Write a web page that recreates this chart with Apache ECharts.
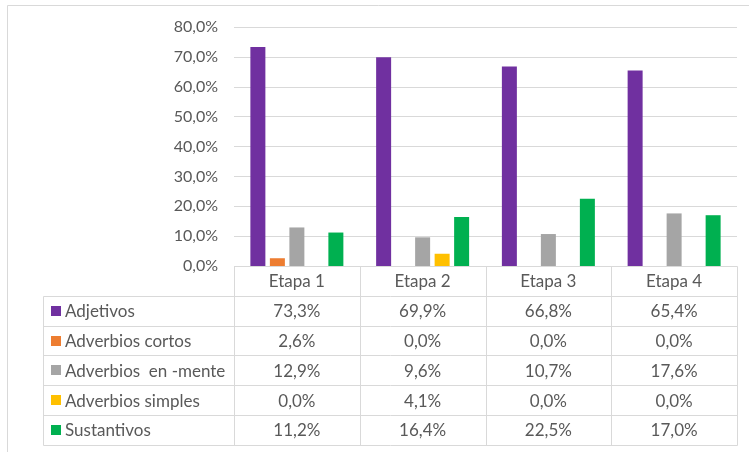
<!DOCTYPE html>
<html>
<head>
<meta charset="utf-8">
<script src="https://cdn.jsdelivr.net/npm/echarts@6/dist/echarts.min.js"></script>
<style>
  html, body { margin: 0; padding: 0; background: #ffffff; }
  #chart { width: 749px; height: 452px; }
</style>
</head>
<body>
<div id="chart"></div>
<script>
// Stages on the category axis
const categories = ['Etapa 1', 'Etapa 2', 'Etapa 3', 'Etapa 4'];

// Share (%) of each word class per stage
const adjetivos        = [73.3, 69.9, 66.8, 65.4];
const adverbiosCortos  = [2.6, 0.0, 0.0, 0.0];
const adverbiosMente   = [12.9, 9.6, 10.7, 17.6];
const adverbiosSimples = [0.0, 4.1, 0.0, 0.0];
const sustantivos      = [11.2, 16.4, 22.5, 17.0];

const seriesNames = ['Adjetivos', 'Adverbios cortos', 'Adverbios  en -mente', 'Adverbios simples', 'Sustantivos'];
const seriesData  = [adjetivos, adverbiosCortos, adverbiosMente, adverbiosSimples, sustantivos];
const seriesColors = ['#7030A0', '#ED7D31', '#A5A5A5', '#FFC000', '#00B050'];

// Value axis range
const yMin = 0, yMax = 80, yStep = 10;

const FONT = 'Lato';
const TEXT_COLOR = '#595959';
const LINE_COLOR = '#D9D9D9';

const fmt = v => v.toFixed(1).replace('.', ',') + '%';

const chart = echarts.init(document.getElementById('chart'), null, { renderer: 'canvas' });

chart.setOption({
  animation: false,
  backgroundColor: '#ffffff',
  textStyle: { fontFamily: FONT },
  grid: { left: 234, right: 12, top: 27, bottom: 186, containLabel: false },
  xAxis: {
    type: 'category',
    data: categories,
    axisLine: { show: false },
    axisTick: { show: false },
    axisLabel: { show: false },
    splitLine: { show: false }
  },
  yAxis: {
    type: 'value',
    min: yMin, max: yMax, interval: yStep,
    axisLine: { show: false },
    axisTick: { show: false },
    splitLine: { lineStyle: { color: LINE_COLOR, width: 1 } },
    axisLabel: {
      margin: 16,
      color: TEXT_COLOR,
      fontFamily: FONT,
      fontSize: 16,
      formatter: v => fmt(v)
    }
  },
  series: seriesData.map((d, i) => ({
    name: seriesNames[i],
    type: 'bar',
    data: d,
    barWidth: 15,
    barGap: '30%',
    itemStyle: { color: seriesColors[i] }
  }))
});

// Data table underneath the plot, aligned to the category axis
function buildTable() {
  const g = [];
  const x0 = chart.convertToPixel({ xAxisIndex: 0 }, 0);
  const x1 = chart.convertToPixel({ xAxisIndex: 0 }, 1);
  const colW = x1 - x0;
  const plotLeft = x0 - colW / 2;
  const plotRight = plotLeft + colW * categories.length;
  const top = chart.convertToPixel({ yAxisIndex: 0 }, 0);
  const rowH = 29.8;
  const tableLeft = 43;
  const bottom = top + rowH * (seriesNames.length + 1);

  const line = (xa, ya, xb, yb) => g.push({
    type: 'line', silent: true,
    shape: { x1: Math.round(xa) + 0.5, y1: Math.round(ya) + 0.5, x2: Math.round(xb) + 0.5, y2: Math.round(yb) + 0.5 },
    style: { stroke: LINE_COLOR, lineWidth: 1 }
  });
  const text = (str, x, y, align) => g.push({
    type: 'text', silent: true,
    style: { text: str, x: x, y: y, align: align, verticalAlign: 'middle', fill: TEXT_COLOR, font: '17px ' + FONT }
  });

  // header row lines
  line(plotLeft, top, plotRight, top);
  // body horizontal lines
  for (let r = 1; r <= seriesNames.length + 1; r++) {
    line(tableLeft, top + r * rowH, plotRight, top + r * rowH);
  }
  // vertical lines
  line(tableLeft, top + rowH, tableLeft, bottom);
  for (let c = 0; c <= categories.length; c++) {
    line(plotLeft + c * colW, top, plotLeft + c * colW, bottom);
  }
  // header labels
  categories.forEach((c, i) => {
    text(c, chart.convertToPixel({ xAxisIndex: 0 }, i), top + rowH / 2 + 1, 'center');
  });
  // rows
  seriesNames.forEach((name, r) => {
    const cy = top + (r + 1.5) * rowH;
    g.push({
      type: 'rect', silent: true,
      shape: { x: 51, y: Math.round(cy) - 5, width: 10, height: 10 },
      style: { fill: seriesColors[r] }
    });
    text(name, 65, cy + 1, 'left');
    seriesData[r].forEach((v, i) => {
      text(fmt(v), chart.convertToPixel({ xAxisIndex: 0 }, i), cy + 1, 'center');
    });
  });
  // chart area border
  g.push({
    type: 'rect', silent: true,
    shape: { x: 7.5, y: 5.5, width: 760, height: 460 },
    style: { fill: 'none', stroke: LINE_COLOR, lineWidth: 1 }
  });
  chart.setOption({ graphic: g });
}
buildTable();
</script>
</body>
</html>
